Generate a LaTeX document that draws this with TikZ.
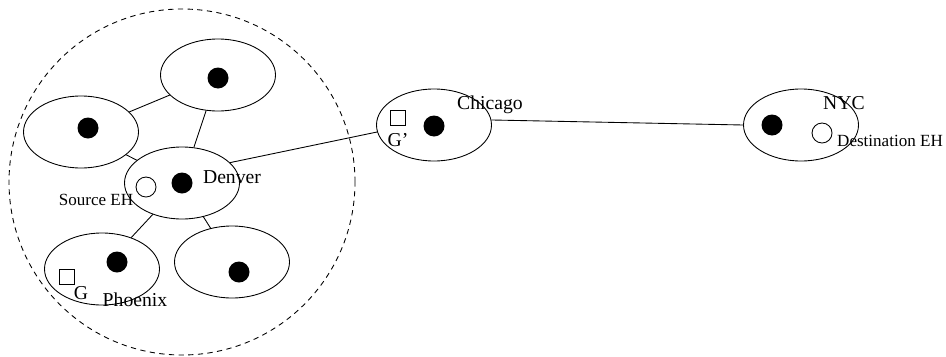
\documentclass[tikz,border=0pt]{standalone}
\usepackage{fontspec}
\setmainfont{Liberation Serif}
\usetikzlibrary{shapes.geometric}

\begin{document}
\begin{tikzpicture}[line width=0.5pt,
    city/.style={draw, ellipse, minimum width=2.3cm, minimum height=1.44cm, inner sep=0pt},
    router/.style={circle, fill=black, minimum size=0.42cm, inner sep=0pt},
    host/.style={circle, draw, minimum size=0.4cm, inner sep=0pt},
    gate/.style={rectangle, draw, minimum size=0.3cm, inner sep=0pt},
    big/.style={inner sep=0pt, font=\fontsize{11.2}{13}\selectfont},
    tag/.style={inner sep=0pt, font=\fontsize{9.7}{11}\selectfont}]
  \useasboundingbox (0,0) rectangle (18.92,7.12);
  \draw[dash pattern=on 3pt off 2.5pt] (3.64,3.48) circle (3.46);
  \node[city] (top) at (4.36,5.62) {};
  \node[city] (left) at (1.62,4.48) {};
  \node[city] (denver) at (3.64,3.46) {};
  \node[city] (phoenix) at (2.04,1.74) {};
  \node[city] (south) at (4.64,1.88) {};
  \node[city] (chicago) at (8.68,4.62) {};
  \node[city] (nyc) at (16.02,4.62) {};
  \draw (top) -- (left);
  \draw (top) -- (denver);
  \draw (left) -- (denver);
  \draw (denver) -- (phoenix);
  \draw (denver) -- (south);
  \draw (denver.23) -- (chicago.187);
  \draw (chicago.5) -- (nyc.west);
  \node[router] (rtop) at (4.36,5.56) {};
  \node[router] (rleft) at (1.76,4.56) {};
  \node[router] (rdenver) at (3.64,3.46) {};
  \node[router] (rphoenix) at (2.34,1.88) {};
  \node[router] (rsouth) at (4.78,1.68) {};
  \node[router] (rchicago) at (8.68,4.60) {};
  \node[router] (rnyc) at (15.44,4.62) {};
  \node[host] (src) at (2.92,3.38) {};
  \node[host] (dst) at (16.44,4.46) {};
  \node[gate] (g) at (1.34,1.58) {};
  \node[gate] (gp) at (7.96,4.76) {};
  \node[big] (ldenver) at (4.64,3.58) {Denver};
  \node[tag] (lsrc) at (1.92,3.12) {Source EH};
  \node[big] (lg) at (1.62,1.26) {G};
  \node[big] (lphoenix) at (2.70,1.12) {Phoenix};
  \node[big] (lgp) at (7.96,4.32) {G'};
  \node[big] (lchicago) at (9.80,5.02) {Chicago};
  \node[big] (lnyc) at (16.88,5.06) {NYC};
  \node[tag] (ldst) at (17.80,4.30) {Destination EH};
\end{tikzpicture}
\end{document}
